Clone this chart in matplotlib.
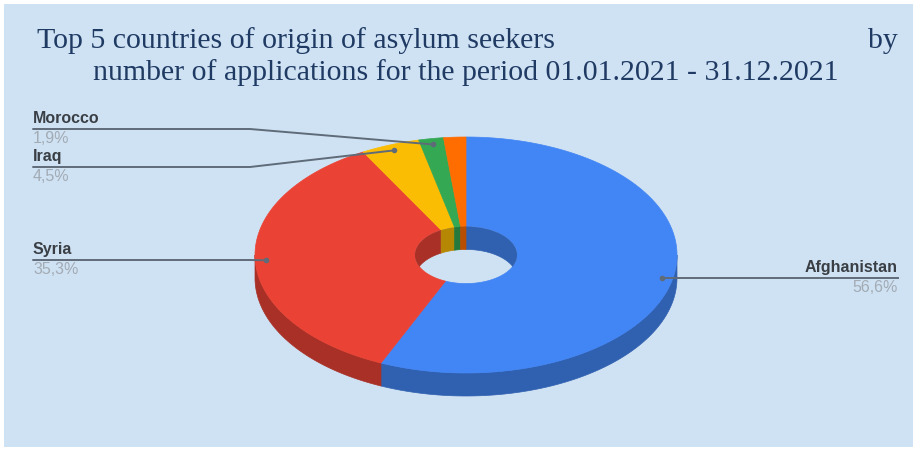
import numpy as np
import matplotlib.pyplot as plt
from matplotlib.patches import Polygon, Ellipse, Rectangle
from matplotlib.colors import to_rgb

# Data (share of applications, %)
countries = ["Afghanistan", "Syria", "Iraq", "Morocco", "Other"]
shares = [56.6, 35.3, 4.5, 1.9, 1.7]
share_labels = ["56,6%", "35,3%", "4,5%", "1,9%", ""]
colors = ["#4285f4", "#ea4335", "#fbbc04", "#34a853", "#ff6d01"]
show_label = [True, True, True, True, False]

title_line1 = "Top 5 countries of origin of asylum seekers"
title_line2 = "number of applications for the period 01.01.2021 - 31.12.2021"

# Layout (pixel coordinates)
W, H = 917, 453
cx, cy = 466, 255
rx, ry = 211, 118
hole = 0.242
depth = 23
bg = "#cfe2f3"


def darker(c, f=0.72):
    r, g, b = to_rgb(c)
    return (r * f, g * f, b * f)


def pt(frac, r=1.0, dy=0.0):
    t = 2 * np.pi * np.asarray(frac)
    return cx + rx * r * np.sin(t), cy - ry * r * np.cos(t) + dy


fig = plt.figure(figsize=(W / 100, H / 100), dpi=100)
fig.patch.set_facecolor("white")
ax = fig.add_axes([0, 0, 1, 1])
ax.set_xlim(0, W)
ax.set_ylim(H, 0)
ax.axis("off")
ax.add_patch(Rectangle((4, 4), W - 8, H - 10, facecolor=bg, edgecolor="none", zorder=0))

fr = np.array(shares) / sum(shares)
starts = np.concatenate([[0], np.cumsum(fr)[:-1]])
ends = np.cumsum(fr)

# outer side walls (front half only)
for s, e, c in zip(starts, ends, colors):
    a, b = max(s, 0.25), min(e, 0.75)
    if b <= a:
        continue
    t = np.linspace(a, b, 80)
    x1, y1 = pt(t)
    x2, y2 = pt(t[::-1], dy=depth)
    ax.add_patch(Polygon(np.column_stack([np.r_[x1, x2], np.r_[y1, y2]]),
                         facecolor=darker(c), edgecolor=darker(c), lw=0.5, zorder=1))

# top faces
for s, e, c in zip(starts, ends, colors):
    t = np.linspace(s, e, 200)
    x1, y1 = pt(t)
    x2, y2 = pt(t[::-1], r=hole)
    ax.add_patch(Polygon(np.column_stack([np.r_[x1, x2], np.r_[y1, y2]]),
                         facecolor=c, edgecolor=c, lw=0.5, zorder=2))

# inner wall of the hole (back half), clipped to the hole opening
clip = Ellipse((cx, cy), 2 * rx * hole, 2 * ry * hole, facecolor="none",
               edgecolor="none", transform=ax.transData)
ax.add_patch(clip)
for s, e, c in zip(starts, ends, colors):
    for lo, hi in [(0.0, 0.25), (0.75, 1.0)]:
        a, b = max(s, lo), min(e, hi)
        if b <= a:
            continue
        t = np.linspace(a, b, 80)
        x1, y1 = pt(t, r=hole)
        x2, y2 = pt(t[::-1], r=hole, dy=depth)
        p = Polygon(np.column_stack([np.r_[x1, x2], np.r_[y1, y2]]),
                    facecolor=darker(c), edgecolor=darker(c), lw=0.5, zorder=3)
        ax.add_patch(p)
        p.set_clip_path(clip)

# labels with leader lines
label_font = "Liberation Sans"
line_color = "#5f6b78"
left_slots = {"Morocco": 129, "Iraq": 167, "Syria": 260}
for name, s, e, txt, show in zip(countries, starts, ends, share_labels, show_label):
    if not show:
        continue
    px, py = pt((s + e) / 2, r=0.95)
    if name in left_slots:
        ly = left_slots[name]
        knee = min(250, px)
        ax.plot([33, knee, px], [ly, ly, py], color=line_color, lw=1.4, zorder=5,
                solid_capstyle="round")
        ax.plot(px, py, "o", ms=3, color=line_color, zorder=5)
        ax.text(33, ly - 3, name, fontsize=11.5, fontweight="bold", color="#3a3f45",
                family=label_font, ha="left", va="bottom", zorder=6)
        ax.text(33, ly + 2, txt, fontsize=11.5, color="#a3abb4",
                family=label_font, ha="left", va="top", zorder=6)
    else:
        ly = py
        ax.plot([px, 898], [ly, ly], color=line_color, lw=1.4, zorder=5)
        ax.plot(px, py, "o", ms=3, color=line_color, zorder=5)
        ax.text(898, ly - 3, name, fontsize=11.5, fontweight="bold", color="#3a3f45",
                family=label_font, ha="right", va="bottom", zorder=6)
        ax.text(898, ly + 2, txt, fontsize=11.5, color="#a3abb4",
                family=label_font, ha="right", va="top", zorder=6)

# title
title_color = "#1f3a63"
ax.text(37, 48, title_line1, fontsize=21.5, color=title_color, family="Liberation Serif",
        ha="left", va="baseline")
ax.text(898, 48, "by", fontsize=21.5, color=title_color, family="Liberation Serif",
        ha="right", va="baseline")
ax.text(466, 80, title_line2, fontsize=21.5, color=title_color, family="Liberation Serif",
        ha="center", va="baseline")

plt.savefig("out.png", dpi=100, facecolor=fig.get_facecolor())
